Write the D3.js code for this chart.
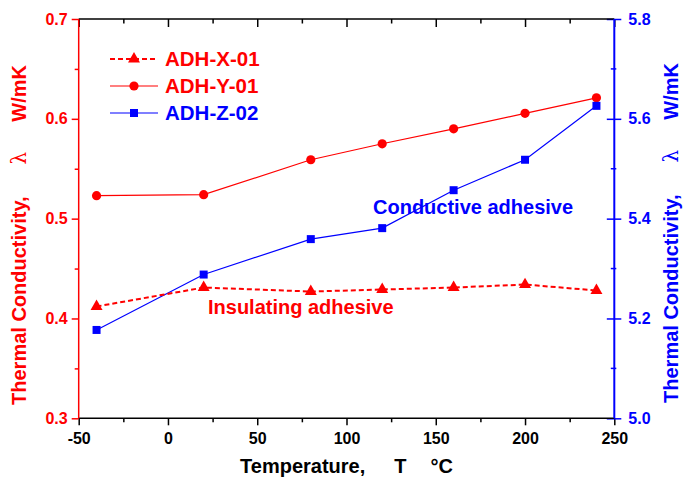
<!DOCTYPE html>
<html>
<head>
<meta charset="utf-8">
<script src="https://cdn.jsdelivr.net/npm/d3@7"></script>
<style>
  body { margin: 0; background: #fff; }
  svg { display: block; font-family: Arial, "Liberation Sans", sans-serif; font-weight: bold; }
</style>
</head>
<body>
<svg id="chart" width="683" height="484"></svg>
<script>
// Measurement temperatures (°C)
const temps = [-40, 20, 80, 120, 160, 200, 240];
// Thermal conductivity, W/mK
const adhX = [0.412, 0.431, 0.427, 0.429, 0.431, 0.434, 0.428];   // insulating adhesive (left axis)
const adhY = [0.523, 0.524, 0.559, 0.575, 0.590, 0.6055, 0.621];  // left axis
const adhZ = [5.177, 5.288, 5.359, 5.381, 5.457, 5.518, 5.626];   // conductive adhesive (right axis)
const seriesNames = ["ADH-X-01", "ADH-Y-01", "ADH-Z-02"];
const xMajor = [-50, 0, 50, 100, 150, 200, 250];
const xMinor = [-25, 25, 75, 125, 175, 225];
const leftMajor = [0.3, 0.4, 0.5, 0.6, 0.7];
const leftMinor = [0.35, 0.45, 0.55, 0.65];
const rightMajor = [5.0, 5.2, 5.4, 5.6, 5.8];
const rightMinor = [5.1, 5.3, 5.5, 5.7];

const RED = "#ff0000", BLUE = "#0000ff", BLACK = "#000";
const FONT = "Arial, 'Liberation Sans', sans-serif";
const L = 78.7, R = 614.3, T = 19, B = 418.3;

const svg = d3.select("#chart");
const x = d3.scaleLinear().domain([-50, 250]).range([L, R]);
const yL = d3.scaleLinear().domain([0.3, 0.7]).range([B, T]);
const yR = d3.scaleLinear().domain([5.0, 5.8]).range([B, T]);

const fmt1 = d3.format(".1f");
const fmtInt = d => String(d);   // plain hyphen for negatives

// ---- bottom axis (ticks outward) ----
const gB = svg.append("g").attr("transform", `translate(0,${B})`);
gB.call(d3.axisBottom(x).tickValues(xMajor).tickSize(7).tickPadding(7).tickFormat(fmtInt));
gB.append("g").call(d3.axisBottom(x).tickValues(xMinor).tickSize(4).tickFormat(""));
gB.selectAll(".domain").remove();
gB.selectAll("line").attr("stroke", BLACK).attr("stroke-width", 1.5);
gB.selectAll("text").attr("fill", BLACK).attr("font-size", 16).attr("font-family", FONT).attr("font-weight", "bold");

// ---- top axis (ticks inward, no labels) ----
const gT = svg.append("g").attr("transform", `translate(0,${T})`);
gT.call(d3.axisTop(x).tickValues(xMajor).tickSize(-8).tickFormat(""));
gT.append("g").call(d3.axisTop(x).tickValues(xMinor).tickSize(-4.5).tickFormat(""));
gT.selectAll(".domain").remove();
gT.selectAll("line").attr("stroke", BLACK).attr("stroke-width", 1.5);

// ---- left axis (red, ticks outward) ----
const gL = svg.append("g").attr("transform", `translate(${L},0)`);
gL.call(d3.axisLeft(yL).tickValues(leftMajor).tickSize(7).tickPadding(4).tickFormat(fmt1));
gL.append("g").call(d3.axisLeft(yL).tickValues(leftMinor).tickSize(4).tickFormat(""));
gL.selectAll(".domain").remove();
gL.selectAll("line").attr("stroke", RED).attr("stroke-width", 1.5);
gL.selectAll("text").attr("fill", RED).attr("font-size", 16).attr("font-family", FONT).attr("font-weight", "bold");

// ---- right axis (blue, major ticks cross the spine) ----
const gR = svg.append("g").attr("transform", `translate(${R},0)`);
gR.call(d3.axisRight(yR).tickValues(rightMajor).tickSize(7).tickPadding(7).tickFormat(fmt1));
gR.selectAll(".domain").remove();
gR.selectAll(".tick line").attr("x1", -7.5);
gR.selectAll(".minor").data(rightMinor).join("line")
  .attr("class", "minor")
  .attr("x1", -3.5).attr("x2", 2)
  .attr("y1", d => yR(d)).attr("y2", d => yR(d));
gR.selectAll("line").attr("stroke", BLUE).attr("stroke-width", 1.5);
gR.selectAll("text").attr("fill", BLUE).attr("font-size", 16).attr("font-family", FONT).attr("font-weight", "bold");

// ---- frame spines ----
svg.append("line").attr("x1", L).attr("x2", R).attr("y1", B).attr("y2", B).attr("stroke", BLACK).attr("stroke-width", 1.5);
svg.append("line").attr("x1", L).attr("x2", R).attr("y1", T).attr("y2", T).attr("stroke", BLACK).attr("stroke-width", 1.5);
svg.append("line").attr("x1", L).attr("x2", L).attr("y1", T).attr("y2", B).attr("stroke", RED).attr("stroke-width", 1.5);
svg.append("line").attr("x1", R).attr("x2", R).attr("y1", T).attr("y2", B).attr("stroke", BLUE).attr("stroke-width", 2);

// ---- series ----
const sym = {
  tri: d3.symbol().type(d3.symbolTriangle).size(62),
  sq: d3.symbol().type(d3.symbolSquare).size(64)
};

function drawLine(vals, y, color, width, dash) {
  const line = d3.line().x((d, i) => x(temps[i])).y(d => y(d));
  svg.append("path").datum(vals).attr("d", line)
    .attr("fill", "none").attr("stroke", color).attr("stroke-width", width)
    .attr("stroke-dasharray", dash || null);
}

drawLine(adhY, yL, RED, 1.2);
drawLine(adhZ, yR, BLUE, 1.2);
drawLine(adhX, yL, RED, 2, "5,3");

svg.append("g").selectAll("circle").data(adhY).join("circle")
  .attr("cx", (d, i) => x(temps[i])).attr("cy", d => yL(d)).attr("r", 4.6).attr("fill", RED);
svg.append("g").selectAll("path").data(adhZ).join("path")
  .attr("d", sym.sq).attr("transform", (d, i) => `translate(${x(temps[i])},${yR(d)})`).attr("fill", BLUE);
svg.append("g").selectAll("path").data(adhX).join("path")
  .attr("d", sym.tri).attr("transform", (d, i) => `translate(${x(temps[i])},${yL(d)})`).attr("fill", RED);

// ---- legend ----
const legend = [
  { name: seriesNames[0], color: RED, dash: "5,3", width: 2, mark: "tri" },
  { name: seriesNames[1], color: RED, dash: null, width: 1.2, mark: "circle" },
  { name: seriesNames[2], color: BLUE, dash: null, width: 1.2, mark: "sq" }
];
const lg = svg.append("g").attr("transform", "translate(110,59)");
legend.forEach((d, i) => {
  const g = lg.append("g").attr("transform", `translate(0,${i * 27})`);
  g.append("line").attr("x1", 0).attr("x2", 48).attr("stroke", d.color)
    .attr("stroke-width", d.width).attr("stroke-dasharray", d.dash);
  if (d.mark === "circle") g.append("circle").attr("cx", 24).attr("r", 4.6).attr("fill", d.color);
  else g.append("path").attr("d", sym[d.mark]).attr("transform", "translate(24,0)").attr("fill", d.color);
  g.append("text").attr("x", 55).attr("y", 7).attr("font-size", 20.5).attr("fill", d.color).text(d.name);
});

// ---- annotations ----
svg.append("text").attr("x", 373).attr("y", 213.5).attr("font-size", 20).attr("fill", BLUE).text("Conductive adhesive");
svg.append("text").attr("x", 208).attr("y", 314).attr("font-size", 20).attr("fill", RED).text("Insulating adhesive");

// ---- axis titles ----
function lambdaTitle(g, color) {
  const t = g.append("text").attr("text-anchor", "middle").attr("font-size", 20).attr("fill", color);
  t.append("tspan").text("Thermal Conductivity,");
  t.append("tspan").attr("dx", 32).attr("font-family", "'DejaVu Serif', 'Liberation Serif', serif")
    .attr("font-weight", "normal").text("λ");
  t.append("tspan").attr("dx", 30).text("W/mK");
  return t;
}
lambdaTitle(svg.append("g").attr("transform", "translate(26,235) rotate(-90)"), RED);
lambdaTitle(svg.append("g").attr("transform", "translate(678,233) rotate(-90)"), BLUE);

const xt = svg.append("text").attr("x", (L + R) / 2).attr("y", 473).attr("text-anchor", "middle")
  .attr("font-size", 20).attr("fill", BLACK);
xt.append("tspan").text("Temperature,");
xt.append("tspan").attr("dx", 29).text("T");
xt.append("tspan").attr("dx", 24).text("°C");
</script>
</body>
</html>
